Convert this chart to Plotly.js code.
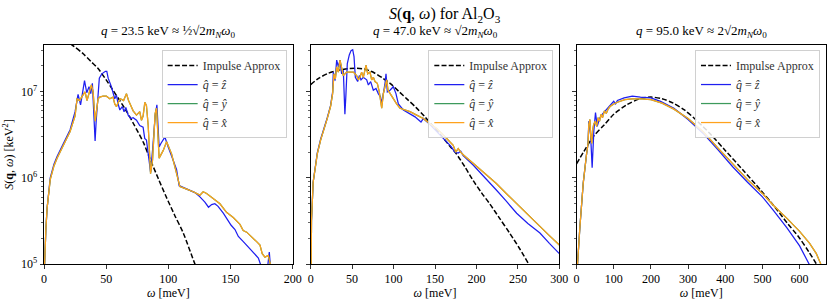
<!DOCTYPE html>
<html>
<head>
<meta charset="utf-8">
<script src="https://cdn.plot.ly/plotly-3.0.1.min.js"></script>
<style>html,body{margin:0;padding:0;background:#fff;}#chart{width:831px;height:303px;}</style>
</head>
<body>
<div id="chart"></div>
<script>
// ---------- DATA (S values given as log10 of S in keV^2) ----------
// Panel 1: q = 23.5 keV
const p1_imp_w   = [0, 5, 10, 15, 20, 24, 31, 38, 43, 50, 55, 60, 67, 72, 80, 85, 92, 98, 105, 112, 121.4, 126];
const p1_imp_log = [7.56, 7.6, 7.62, 7.61, 7.57, 7.53, 7.45, 7.35, 7.28, 7.14, 7.03, 6.92, 6.76, 6.63, 6.41, 6.23, 5.99, 5.79, 5.57, 5.36, 5.0, 4.85];

const p1_z_w   = [0, 0.5, 1.5, 2.5, 5, 8, 10.5, 16, 21, 25, 27.4, 29.4, 32.6, 34.4, 36.2, 37.6, 38.9, 41.1, 42, 44.5, 46.5, 49.4, 50.5, 51.6, 54.2, 56.9, 58.3, 59.6, 61, 63, 64.4, 65.8, 67.7, 69.8, 71.7, 74.4, 77, 79.7, 81, 82.4, 84.6, 85.7, 87.3, 88.3, 89.4, 90.8, 91.8, 92.6, 94, 97.2, 99.9, 102.6, 104.4, 106.6, 108.7, 113.3, 117.3, 121.4, 125.4, 129.4, 132.3, 134.8, 137.4, 140, 144.2, 146.8, 150.5, 153.6, 156.3, 160.3, 164.3, 168.3, 172.4, 174.5, 177, 179.5, 181.2, 182.5, 186];
const p1_z_log = [4.0, 5.0, 5.4, 5.65, 6.0, 6.16, 6.25, 6.41, 6.56, 6.77, 6.97, 6.85, 7.13, 6.99, 7.06, 6.98, 7.10, 6.43, 6.67, 7.16, 7.21, 7.24, 7.24, 7.16, 7.06, 6.92, 6.96, 6.86, 6.79, 6.83, 6.77, 6.82, 6.73, 6.69, 6.70, 6.67, 6.61, 6.59, 6.46, 6.44, 6.17, 6.07, 6.32, 6.55, 6.72, 6.85, 6.60, 6.36, 6.40, 6.475, 6.36, 6.26, 6.20, 6.10, 5.91, 5.88, 5.86, 5.83, 5.78, 5.72, 5.66, 5.69, 5.70, 5.67, 5.59, 5.53, 5.45, 5.40, 5.32, 5.26, 5.20, 5.14, 5.07, 4.98, 4.9, 4.92, 5.14, 4.9, 4.7];

const p1_x_w   = [0, 0.5, 1.5, 2.5, 5, 8, 10.5, 16, 21, 25, 26.6, 28.5, 31.4, 33, 34.6, 36.2, 38.1, 39.5, 41.2, 43.5, 44.8, 47.5, 50.2, 52.9, 55.5, 56.9, 58.3, 59.8, 61.5, 64, 66.3, 68, 70.3, 71.7, 74.4, 77, 78.4, 79.7, 81.1, 82.4, 83.8, 85.7, 87.3, 88.3, 89.4, 90.5, 91.8, 92.6, 95.9, 98.6, 102.6, 106.6, 109.3, 114.7, 120, 125.4, 128, 130.8, 136.1, 141.5, 146.8, 152.2, 157.6, 160.2, 163, 167, 171, 173.7, 175.5, 177.7, 180.4, 181.7, 184, 187];
const p1_x_log = [4.0, 5.0, 5.4, 5.65, 5.98, 6.14, 6.23, 6.39, 6.54, 6.72, 6.92, 6.90, 6.96, 7.0, 6.90, 7.0, 7.08, 7.0, 6.66, 6.92, 6.94, 6.95, 6.95, 6.92, 6.94, 6.86, 6.83, 6.88, 6.92, 6.90, 6.98, 6.90, 6.83, 6.78, 6.73, 6.77, 6.67, 6.72, 6.88, 6.84, 6.61, 6.05, 6.21, 6.45, 6.75, 6.81, 6.50, 6.23, 6.32, 6.42, 6.28, 6.05, 5.90, 5.87, 5.84, 5.80, 5.84, 5.82, 5.76, 5.70, 5.60, 5.54, 5.46, 5.39, 5.37, 5.32, 5.26, 5.22, 5.12, 5.08, 5.10, 5.02, 4.85, 4.7];

// Panel 2: q = 47.0 keV
const p2_imp_w   = [0, 10, 21, 33, 45, 55, 62, 70, 77, 87, 97, 107, 117, 127, 137, 147, 157, 167, 175, 186, 196, 206, 216, 228, 240, 252, 263, 268];
const p2_imp_log = [7.085, 7.16, 7.215, 7.25, 7.27, 7.275, 7.27, 7.25, 7.22, 7.16, 7.09, 7.00, 6.91, 6.82, 6.72, 6.61, 6.50, 6.38, 6.29, 6.13, 5.97, 5.83, 5.70, 5.53, 5.36, 5.18, 5.0, 4.92];

const p2_z_w   = [0, 0.3, 1, 3, 8, 12, 15, 20, 24, 26.5, 27.3, 29.4, 31.4, 33.4, 35.4, 37.4, 39.4, 41.3, 42.6, 44.2, 46.6, 48.7, 50.7, 52.3, 53.9, 56.7, 58.7, 60.7, 63.5, 67.6, 69.6, 72.4, 75.6, 78.8, 81.6, 84.4, 85.7, 87.7, 89.7, 90.9, 92.5, 95.7, 99.7, 102.9, 105.8, 111.8, 119.8, 125.9, 133.1, 135.9, 144, 152, 158, 164, 169, 174, 178, 181, 184, 196, 210, 224, 236, 248.5, 262, 276.6, 288, 300];
const p2_z_log = [4.0, 5.0, 5.5, 5.95, 6.29, 6.45, 6.54, 6.70, 6.84, 7.0, 7.23, 7.13, 7.37, 7.29, 7.37, 7.21, 7.25, 6.74, 6.98, 7.33, 7.43, 7.48, 7.49, 7.41, 7.17, 7.12, 7.19, 7.14, 7.17, 7.14, 7.08, 7.12, 7.02, 7.04, 6.98, 6.94, 6.86, 6.96, 7.10, 7.21, 7.0, 7.02, 7.06, 6.98, 6.86, 6.79, 6.75, 6.71, 6.65, 6.69, 6.62, 6.54, 6.47, 6.42, 6.37, 6.30, 6.29, 6.31, 6.26, 6.15, 6.01, 5.86, 5.73, 5.59, 5.47, 5.36, 5.24, 5.12];

const p2_x_w   = [0, 0.3, 1, 3, 8, 12, 15, 20, 24, 26.5, 28.1, 29.8, 31.4, 33.4, 35.4, 37.4, 39.4, 41.4, 43.4, 47.4, 51.5, 55.5, 57.5, 59.5, 61.5, 63.5, 66.8, 68.8, 71.6, 73.6, 75.6, 77.6, 80.4, 82.8, 84.8, 85.7, 87.7, 89.7, 91.7, 93.3, 95.7, 99.7, 103.7, 107.8, 113.8, 119.8, 127.9, 135.9, 144, 152, 158, 162, 166, 169, 172, 175, 178, 181, 184, 196, 210, 224, 236, 248.5, 262, 276.6, 288, 300];
const p2_x_log = [4.0, 5.0, 5.5, 5.95, 6.28, 6.44, 6.53, 6.69, 6.83, 6.98, 7.21, 7.15, 7.29, 7.23, 7.37, 7.27, 7.19, 7.21, 7.23, 7.23, 7.23, 7.19, 7.14, 7.17, 7.23, 7.17, 7.31, 7.21, 7.23, 7.14, 7.17, 7.12, 7.10, 7.0, 6.88, 6.81, 6.98, 7.06, 7.14, 7.02, 6.98, 6.92, 6.86, 6.81, 6.79, 6.77, 6.73, 6.69, 6.63, 6.575, 6.52, 6.48, 6.44, 6.40, 6.38, 6.30, 6.34, 6.30, 6.27, 6.17, 6.05, 5.935, 5.82, 5.70, 5.57, 5.43, 5.33, 5.22];

// Panel 3: q = 95.0 keV
const p3_imp_w   = [0, 20, 45, 75, 100, 135, 170, 200, 230, 260, 290, 320, 360, 400, 450, 495, 530, 566, 600, 625, 645, 655];
const p3_imp_log = [6.165, 6.31, 6.48, 6.62, 6.74, 6.85, 6.92, 6.94, 6.92, 6.87, 6.79, 6.68, 6.51, 6.32, 6.08, 5.86, 5.68, 5.48, 5.30, 5.14, 5.0, 4.92];

const p3_z_w   = [0, 2.7, 9, 18, 27, 31, 33, 35, 37.7, 42, 46.6, 51, 55.6, 60, 63, 69, 78, 87, 96, 100, 105, 110, 128, 150, 172, 200, 226, 262, 300, 340, 380, 420, 460, 500, 530, 566, 600, 627, 640];
const p3_z_log = [4.0, 5.0, 5.43, 5.94, 6.28, 6.40, 6.66, 6.60, 6.51, 6.12, 6.55, 6.76, 6.60, 6.66, 6.70, 6.74, 6.78, 6.82, 6.87, 6.89, 6.86, 6.90, 6.93, 6.95, 6.94, 6.93, 6.89, 6.81, 6.68, 6.52, 6.33, 6.13, 5.95, 5.78, 5.62, 5.42, 5.21, 5.0, 4.88];

const p3_x_w   = [0, 2.7, 9, 18, 27, 31, 33, 36, 38, 41, 43, 46, 50, 54, 58, 62, 66, 70, 75, 80, 85, 90, 100, 110, 130, 150, 175, 200, 230, 262, 300, 340, 380, 420, 460, 500, 530, 566, 600, 627, 645, 657, 670];
const p3_x_log = [4.0, 5.0, 5.43, 5.94, 6.28, 6.40, 6.62, 6.68, 6.50, 6.40, 6.55, 6.62, 6.66, 6.60, 6.70, 6.66, 6.74, 6.70, 6.78, 6.75, 6.80, 6.83, 6.86, 6.88, 6.91, 6.92, 6.92, 6.91, 6.87, 6.80, 6.69, 6.54, 6.35, 6.16, 5.98, 5.82, 5.68, 5.53, 5.38, 5.24, 5.12, 5.0, 4.88];

// Series labels, tick labels and text
const seriesNames = ['Impulse Approx', '<i>q̂</i> = <i>ẑ</i>', '<i>q̂</i> = <i>ŷ</i>', '<i>q̂</i> = <i>x̂</i>'];
const panelTitles = [
  '<i>q</i> = 23.5 keV ≈ ½√2<i>m<sub>N</sub>ω</i><sub>0</sub>',
  '<i>q</i> = 47.0 keV ≈ √2<i>m<sub>N</sub>ω</i><sub>0</sub>',
  '<i>q</i> = 95.0 keV ≈ 2√2<i>m<sub>N</sub>ω</i><sub>0</sub>'
];
const xRanges = [[0, 200], [0, 300], [0, 671]];
const xDticks = [50, 50, 100];
const yTickVals = [1e5, 1e6, 1e7];
const yTickText = ['10<sup>5</sup>', '10<sup>6</sup>', '10<sup>7</sup>'];
const minorTicks = [2e5,3e5,4e5,5e5,6e5,7e5,8e5,9e5,2e6,3e6,4e6,5e6,6e6,7e6,8e6,9e6,2e7,3e7];

// ---------- BUILD ----------
const pw = v => v.map(e => Math.pow(10, e));
const FONT = 'Liberation Serif, Times New Roman, serif';
const colors = {imp: '#000000', z: '#1f1ff0', y: '#3d9a5c', x: '#ffa21c'};

const panels = [
  {imp: [p1_imp_w, p1_imp_log], z: [p1_z_w, p1_z_log], x: [p1_x_w, p1_x_log]},
  {imp: [p2_imp_w, p2_imp_log], z: [p2_z_w, p2_z_log], x: [p2_x_w, p2_x_log]},
  {imp: [p3_imp_w, p3_imp_log], z: [p3_z_w, p3_z_log], x: [p3_x_w, p3_x_log]}
];

const traces = [];
panels.forEach((p, i) => {
  const xa = i === 0 ? 'x' : 'x' + (i + 1);
  const ya = i === 0 ? 'y' : 'y' + (i + 1);
  const lg = i === 0 ? 'legend' : 'legend' + (i + 1);
  traces.push({x: p.imp[0], y: pw(p.imp[1]), xaxis: xa, yaxis: ya, legend: lg, name: seriesNames[0], mode: 'lines',
    line: {color: colors.imp, width: 1.5, dash: '5px,2.2px', shape: 'spline', smoothing: 0.8}});
  traces.push({x: p.z[0], y: pw(p.z[1]), xaxis: xa, yaxis: ya, legend: lg, name: seriesNames[1], mode: 'lines',
    line: {color: colors.z, width: 1.25}});
  traces.push({x: p.x[0], y: pw(p.x[1]), xaxis: xa, yaxis: ya, legend: lg, name: seriesNames[2], mode: 'lines',
    line: {color: colors.y, width: 1.25}});
  traces.push({x: p.x[0], y: pw(p.x[1]), xaxis: xa, yaxis: ya, legend: lg, name: seriesNames[3], mode: 'lines',
    line: {color: colors.x, width: 1.25}});
});

const domains = [[0, 0.318], [0.341, 0.659], [0.681, 1]];
const layout = {
  width: 831, height: 303,
  margin: {l: 44, r: 5, t: 45, b: 39},
  paper_bgcolor: '#fff', plot_bgcolor: '#fff',
  font: {family: FONT, size: 12, color: '#000'},
  title: {text: '<i>S</i>(<b>q</b>, <i>ω</i>) for Al<sub>2</sub>O<sub>3</sub>', font: {family: FONT, size: 16, color: '#000'},
    x: 0.535, xanchor: 'center', xref: 'container', y: 0.955, yref: 'container', yanchor: 'middle'},
  showlegend: true,
  annotations: [],
  hovermode: false
};

domains.forEach((d, i) => {
  const k = i === 0 ? '' : String(i + 1);
  layout['xaxis' + k] = {
    domain: d, anchor: 'y' + k, range: xRanges[i], tick0: 0, dtick: xDticks[i],
    ticks: 'outside', ticklen: 3.5, tickwidth: 0.8, tickcolor: '#000',
    showline: true, mirror: true, linecolor: '#000', linewidth: 1,
    showgrid: false, zeroline: false,
    tickfont: {family: FONT, size: 12, color: '#000'},
    title: {text: '<i>ω</i> [meV]', standoff: 3, font: {family: FONT, size: 12, color: '#000'}}
  };
  layout['yaxis' + k] = {
    anchor: 'x' + k, type: 'log', range: [5, 7.545],
    tickmode: 'array', tickvals: yTickVals, ticktext: yTickText,
    ticks: 'outside', ticklen: 3.5, tickwidth: 0.8, tickcolor: '#000',
    minor: {tickmode: 'array', tickvals: minorTicks, ticks: 'outside', ticklen: 2, tickwidth: 0.6, tickcolor: '#000', showgrid: false},
    showline: true, mirror: true, linecolor: '#000', linewidth: 1,
    showgrid: false, zeroline: false,
    showticklabels: i === 0,
    tickfont: {family: FONT, size: 12, color: '#000'},
    title: i === 0 ? {text: '<i>S</i>(<b>q</b>, <i>ω</i>) [keV<sup>2</sup>]', standoff: 4, font: {family: FONT, size: 12, color: '#000'}} : {text: ''}
  };
  layout['legend' + k] = {
    x: d[1] - 0.0077, xanchor: 'right', y: 0.977, yanchor: 'top',
    bgcolor: 'rgba(255,255,255,0.85)', bordercolor: '#d0d0d0', borderwidth: 1,
    font: {family: FONT, size: 12, color: '#333'}, tracegroupgap: 0, itemwidth: 30
  };
  layout.annotations.push({
    text: panelTitles[i], xref: 'paper', yref: 'paper', x: (d[0] + d[1]) / 2, y: 1,
    xanchor: 'center', yanchor: 'bottom', yshift: 3, showarrow: false,
    font: {family: FONT, size: 13, color: '#000'}
  });
});

Plotly.newPlot('chart', traces, layout, {displayModeBar: false, staticPlot: true});
</script>
</body>
</html>
